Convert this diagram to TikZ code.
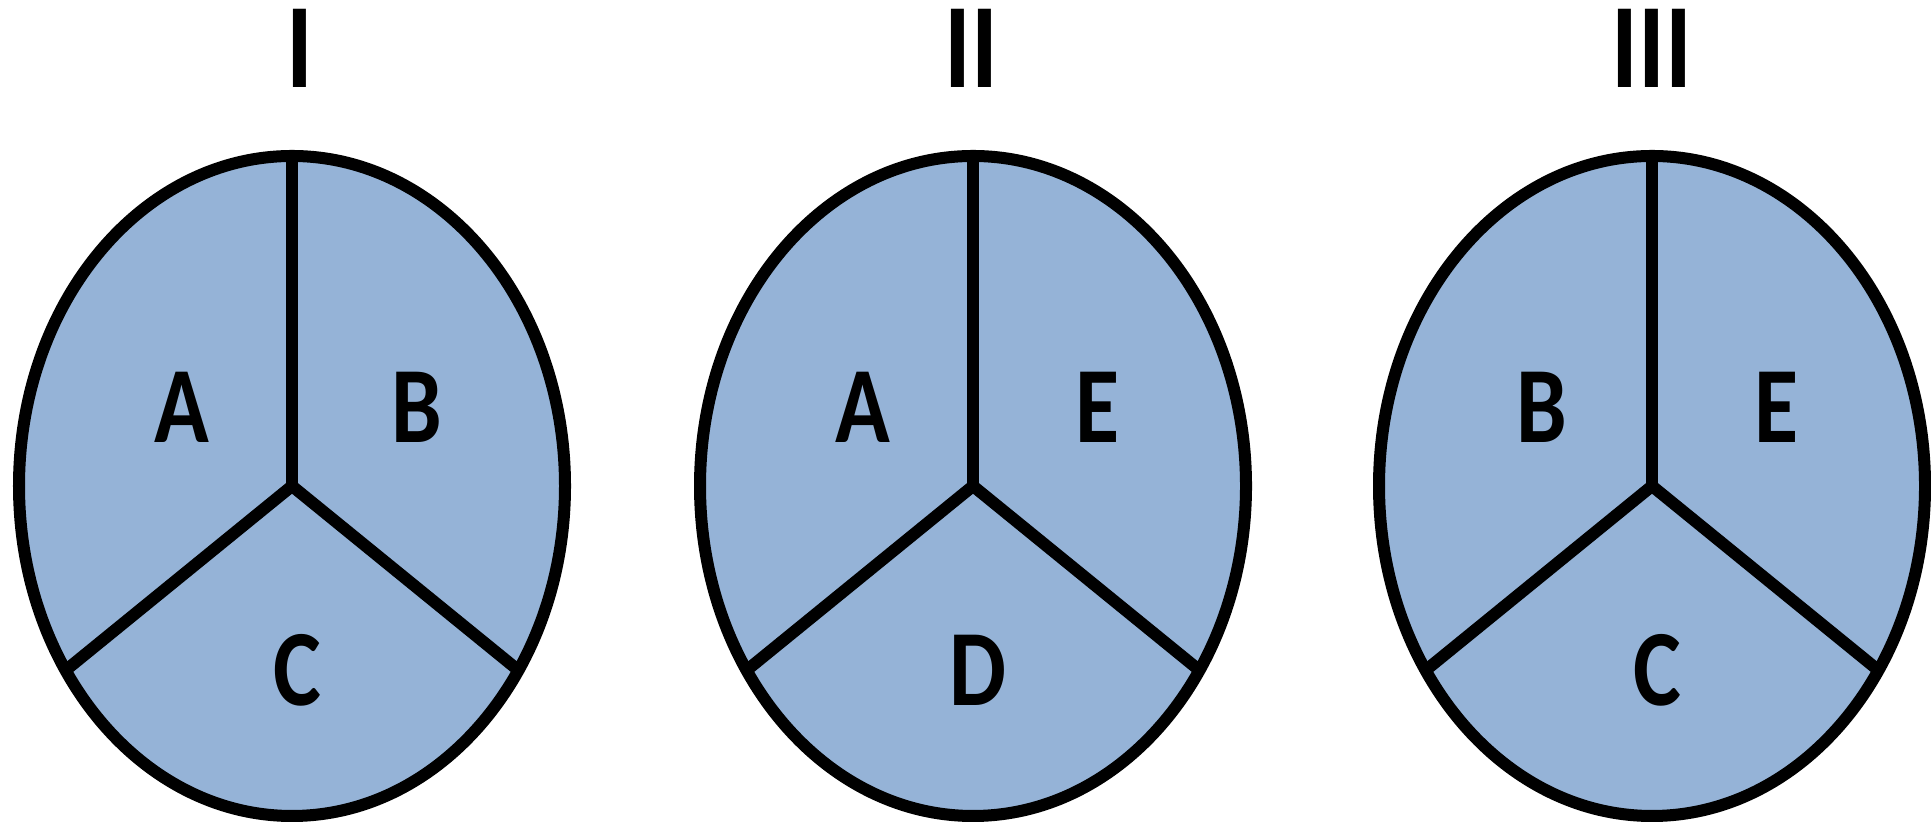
\documentclass[tikz,border=0pt]{standalone}
\usepackage{fontspec}
\setmainfont{Carlito}
\usepackage{tikz}
\definecolor{sectorblue}{RGB}{149,179,215}
\usetikzlibrary{positioning}
\tikzset{
  setline/.style={line width=0.12cm, draw=black, line cap=round},
  setlabel/.style={font=\fontsize{25.7}{26}\selectfont\bfseries, yscale=1.2, inner sep=0pt},
  settitle/.style={font=\fontsize{28.6}{29}\selectfont\bfseries, yscale=1.2, inner sep=0pt}
}

\begin{document}
\begin{tikzpicture}[x=0.01cm, y=0.01cm]
  \useasboundingbox (0,0) rectangle (1931,828);
  % three sets, each split in three sectors
  \foreach \cx/\tx/\tl/\la/\lb/\lc/\nm in {292/300/I/A/B/C/one, 973/971/II/A/E/D/two, 1652/1652/III/B/E/C/three}{
    \coordinate (c\nm) at (\cx,342);
    \filldraw[setline, fill=sectorblue] (c\nm) ellipse (273 and 330);
    \draw[setline] (c\nm) -- +(0,330) coordinate (t\nm);
    \draw[setline] (c\nm) -- +(-226,-184) coordinate (l\nm);
    \draw[setline] (c\nm) -- +(226,-184) coordinate (r\nm);
    \node[setlabel] (a\nm) at ([shift={(-110,79)}]c\nm) {\la};
    \node[setlabel] (b\nm) at ([shift={(125,79)}]c\nm) {\lb};
    \node[setlabel] (d\nm) at ([shift={(5,-184)}]c\nm) {\lc};
    \node[settitle] (h\nm) at (\tx,780) {\tl};
  }
\end{tikzpicture}
\end{document}
